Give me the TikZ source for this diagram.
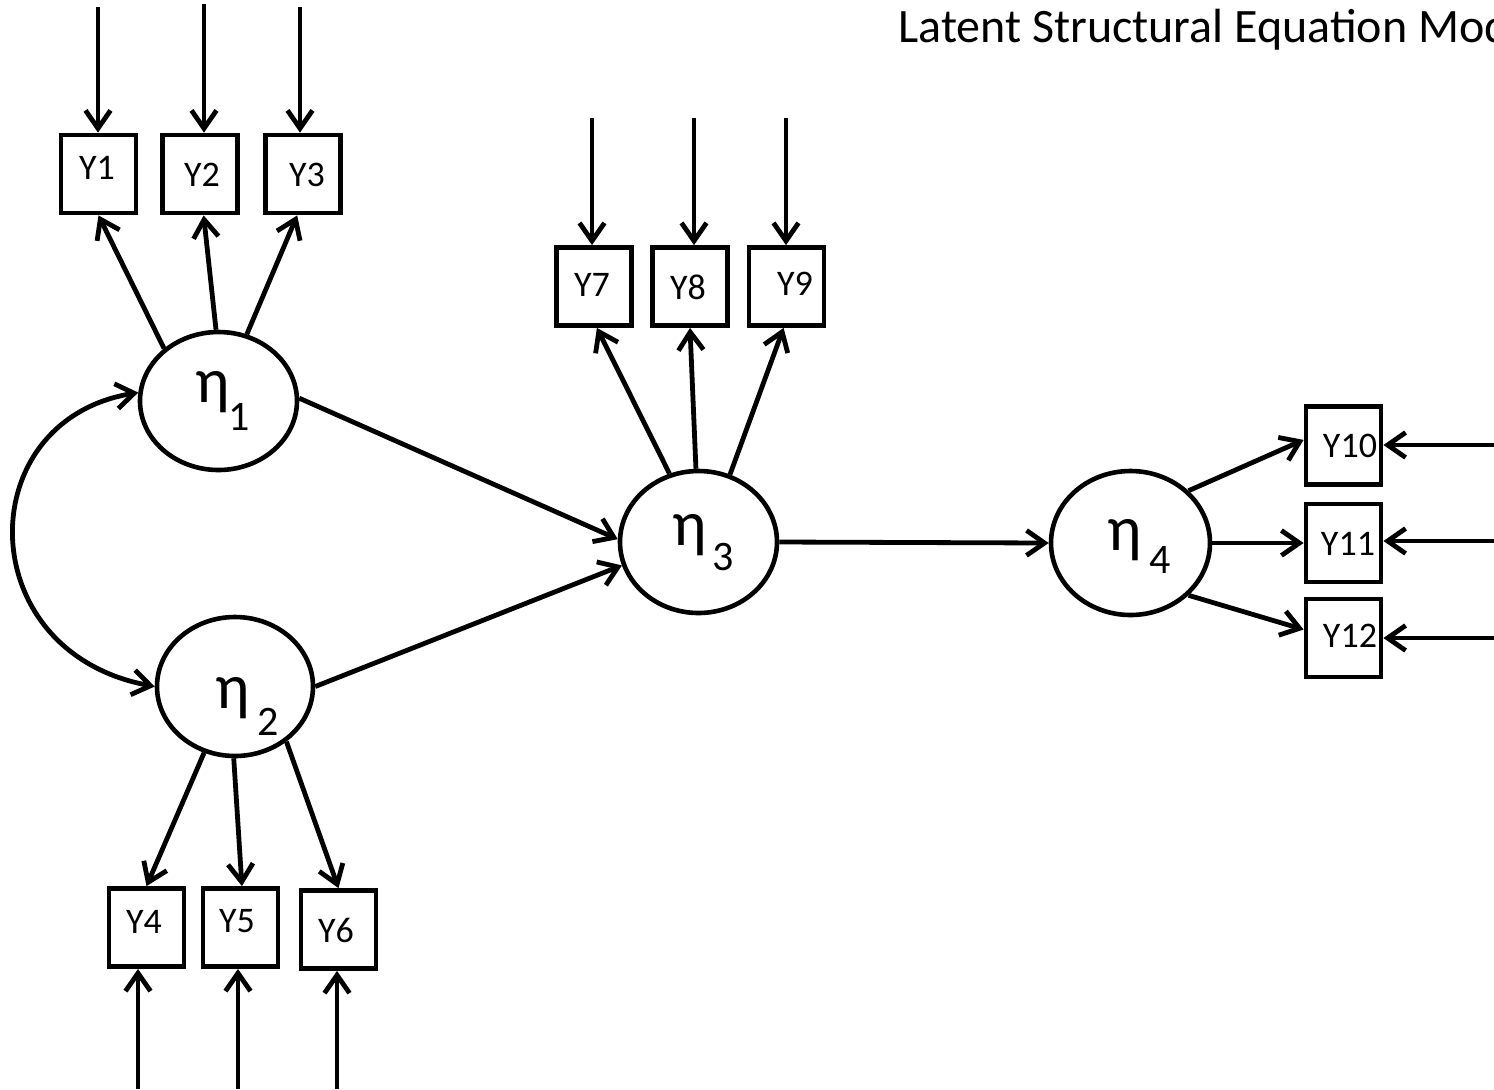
\documentclass[tikz,border=0pt]{standalone}
\usepackage{fontspec}
\setmainfont{Carlito}
\usetikzlibrary{arrows.meta,calc,shapes.geometric}
\begin{document}
\begin{tikzpicture}[x=0.5pt,y=-0.5pt,
  obs/.style={draw,line width=2.4pt,minimum width=37.5pt,minimum height=39pt,inner sep=0pt},
  lat/.style={draw,ellipse,line width=2.3pt,inner sep=0pt},
  lab/.style={inner sep=0pt,font=\fontsize{18}{18}\selectfont},
  etatxt/.style={anchor=base west,inner sep=0pt,font=\fontsize{32}{32}\selectfont},
  subtxt/.style={anchor=base west,inner sep=0pt,font=\fontsize{21}{21}\selectfont},
  tip/.tip={Straight Barb[length=9pt,width=12.5pt]},
  arr/.style={line width=2.4pt,-tip},
  darr/.style={line width=2.4pt,tip-tip}]
\useasboundingbox (0,0) rectangle (1494,1089);
\clip (0,0) rectangle (1494,1089);

% title
\node[anchor=base west,inner sep=0pt,font=\fontsize{24}{24}\selectfont] (title) at (898,42) {Latent Structural Equation Model};

% observed boxes
\node[obs] (Y1) at (98.5,174) {};
\node[obs] (Y2) at (200,174) {};
\node[obs] (Y3) at (303,174) {};
\node[obs] (Y7) at (594,286.5) {};
\node[obs] (Y8) at (690,286.5) {};
\node[obs] (Y9) at (786.5,286.5) {};
\node[obs] (Y4) at (146.5,927.5) {};
\node[obs] (Y5) at (240.5,927.5) {};
\node[obs] (Y6) at (338.5,929.5) {};
\node[obs] (Y10) at (1343.5,445.5) {};
\node[obs] (Y11) at (1343.5,543) {};
\node[obs] (Y12) at (1343.5,638) {};

% box labels
\node[lab] (t1) at (97,168) {Y1};
\node[lab] (t2) at (202,175) {Y2};
\node[lab] (t3) at (307,175) {Y3};
\node[lab] (t7) at (592,285) {Y7};
\node[lab] (t8) at (688,287) {Y8};
\node[lab] (t9) at (795,284) {Y9};
\node[lab] (t4) at (144,922) {Y4};
\node[lab] (t5) at (237,921) {Y5};
\node[lab] (t6) at (336,930) {Y6};
\node[lab] (t10) at (1350,446) {Y10};
\node[lab] (t11) at (1348,544) {Y11};
\node[lab] (t12) at (1350,636) {Y12};

% latent ellipses
\node[lat,minimum width=78.5pt,minimum height=69pt] (e1) at (218.5,401) {};
\node[lat,minimum width=78pt,minimum height=69.5pt] (e2) at (235,686.5) {};
\node[lat,minimum width=78.5pt,minimum height=71pt] (e3) at (698.5,542) {};
\node[lat,minimum width=79.5pt,minimum height=72pt] (e4) at (1130.5,543) {};

% eta labels
\node[etatxt] (h1) at (195,402) {η};
\node[subtxt] (n1) at (228,430) {1};
\node[etatxt] (h2) at (215,708) {η};
\node[subtxt] (n2) at (257,735) {2};
\node[etatxt] (h3) at (672,545) {η};
\node[subtxt] (n3) at (712,570) {3};
\node[etatxt] (h4) at (1107,550) {η};
\node[subtxt] (n4) at (1149,573) {4};

% loadings
\draw[arr] (e1.136) -- (Y1.south);
\draw[arr] (e1.92) -- (Y2.-85);
\draw[arr] (e1.67) -- (Y3.-98);
\draw[arr] (e3.113) -- (Y7.-86);
\draw[arr] (e3.92) -- (Y8.south);
\draw[arr] (e3.65) -- (Y9.-94);
\draw[arr] (e2.245) -- (Y4.north);
\draw[arr] (e2.269) -- (Y5.88);
\draw[arr] (e2.-47) -- (Y6.north);
\draw[arr] (e4.42) -- (Y10.172);
\draw[arr] (e4.east) -- (Y11.west);
\draw[arr] (e4.-42) -- (Y12.168);

% structural paths
\draw[arr] (e1.2) -- (e3.178);
\draw[arr] (e2.east) -- (e3.197);
\draw[arr] (e3.east) -- (e4.west);
\draw[darr] (e1.174) .. controls (-30,420) and (-30,652) .. (e2.west);

% error arrows
\coordinate (s1) at (98,7);
\coordinate (s2) at (204,4);
\coordinate (s3) at (300,7);
\coordinate (s7) at (592,118);
\coordinate (s8) at (694,118);
\coordinate (s9) at (786,118);
\coordinate (s4) at (138,1089);
\coordinate (s5) at (238,1089);
\coordinate (s6) at (337,1089);
\coordinate (r10) at (1494,445);
\coordinate (r11) at (1494,541);
\coordinate (r12) at (1494,638);
\draw[arr] (s1) -- (s1 |- Y1.north);
\draw[arr] (s2) -- (s2 |- Y2.north);
\draw[arr] (s3) -- (s3 |- Y3.north);
\draw[arr] (s7) -- (s7 |- Y7.north);
\draw[arr] (s8) -- (s8 |- Y8.north);
\draw[arr] (s9) -- (s9 |- Y9.north);
\draw[arr] (s4) -- (s4 |- Y4.south);
\draw[arr] (s5) -- (s5 |- Y5.south);
\draw[arr] (s6) -- (s6 |- Y6.south);
\draw[arr] (r10) -- (r10 -| Y10.east);
\draw[arr] (r11) -- (r11 -| Y11.east);
\draw[arr] (r12) -- (r12 -| Y12.east);
\end{tikzpicture}
\end{document}
